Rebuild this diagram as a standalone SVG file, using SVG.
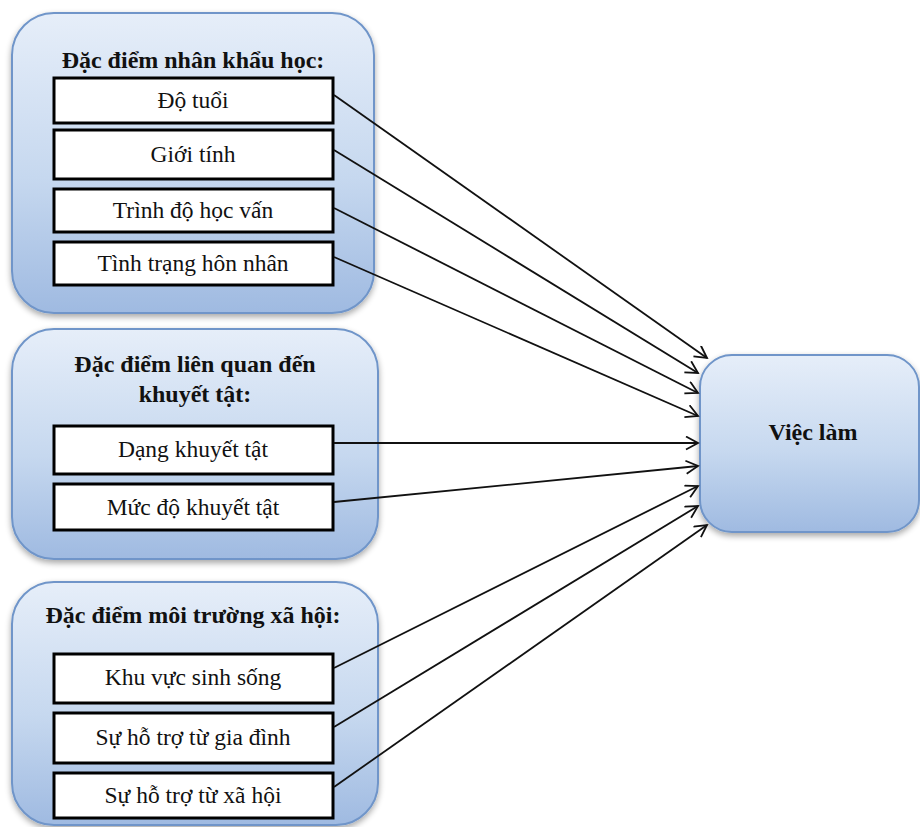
<svg xmlns="http://www.w3.org/2000/svg" width="920" height="827" viewBox="0 0 920 827">
<defs>
<linearGradient id="blueGrad" x1="0" y1="0" x2="0" y2="1">
<stop offset="0" stop-color="#e6eef9"/>
<stop offset="0.55" stop-color="#c6d8ef"/>
<stop offset="1" stop-color="#9fbae1"/>
</linearGradient>
<filter id="shadow" x="-10%" y="-10%" width="120%" height="125%">
<feGaussianBlur in="SourceAlpha" stdDeviation="3"/>
<feOffset dx="0" dy="3" result="b"/>
<feComponentTransfer><feFuncA type="linear" slope="0.35"/></feComponentTransfer>
<feMerge><feMergeNode/><feMergeNode in="SourceGraphic"/></feMerge>
</filter>
<marker id="arrow" markerWidth="16" markerHeight="16" refX="13" refY="7" orient="auto" markerUnits="userSpaceOnUse">
<path d="M1,0.5 L13,7 L1,13.5" fill="none" stroke="#111" stroke-width="1.8"/>
</marker>
<style>
.group{fill:url(#blueGrad);stroke:#6f95c9;stroke-width:2;filter:url(#shadow)}
.item{fill:#fff;stroke:#000;stroke-width:3}
.title{font-family:"Liberation Serif","Times New Roman",serif;font-size:24px;font-weight:bold;fill:#111;text-anchor:middle}
.label{font-family:"Liberation Serif","Times New Roman",serif;font-size:23.5px;fill:#111;text-anchor:middle}
.conn line{stroke:#111;stroke-width:1.8;marker-end:url(#arrow)}
</style>
</defs>
<rect width="920" height="827" fill="#fff"/>

<g id="group-nhan-khau-hoc">
<rect class="group" x="12" y="13" width="362" height="300" rx="42"/>
<text class="title" x="193" y="68">Đặc điểm nhân khẩu học:</text>
<g id="do-tuoi"><rect class="item" x="54" y="78" width="279" height="45"/><text class="label" x="193" y="108">Độ tuổi</text></g>
<g id="gioi-tinh"><rect class="item" x="54" y="130" width="279" height="49"/><text class="label" x="193" y="162">Giới tính</text></g>
<g id="trinh-do"><rect class="item" x="54" y="189" width="279" height="43"/><text class="label" x="193" y="218">Trình độ học vấn</text></g>
<g id="hon-nhan"><rect class="item" x="54" y="242" width="279" height="43"/><text class="label" x="193" y="271">Tình trạng hôn nhân</text></g>
</g>

<g id="group-khuyet-tat">
<rect class="group" x="12" y="329" width="366" height="230" rx="42"/>
<text class="title" x="195" y="372">Đặc điểm liên quan đến</text>
<text class="title" x="195" y="402">khuyết tật:</text>
<g id="dang-khuyet-tat"><rect class="item" x="54" y="426" width="279" height="48"/><text class="label" x="193" y="457">Dạng khuyết tật</text></g>
<g id="muc-do-khuyet-tat"><rect class="item" x="54" y="484" width="279" height="46"/><text class="label" x="193" y="515">Mức độ khuyết tật</text></g>
</g>

<g id="group-moi-truong">
<rect class="group" x="12" y="582" width="366" height="243" rx="42"/>
<text class="title" x="193" y="623">Đặc điểm môi trường xã hội:</text>
<g id="khu-vuc"><rect class="item" x="54" y="654" width="279" height="49"/><text class="label" x="193" y="685">Khu vực sinh sống</text></g>
<g id="ho-tro-gia-dinh"><rect class="item" x="54" y="713" width="279" height="50"/><text class="label" x="193" y="745">Sự hỗ trợ từ gia đình</text></g>
<g id="ho-tro-xa-hoi"><rect class="item" x="54" y="773" width="279" height="45"/><text class="label" x="193" y="803">Sự hỗ trợ từ xã hội</text></g>
</g>

<g id="viec-lam">
<rect class="group" x="700" y="355" width="219" height="177" rx="32"/>
<text class="title" x="813" y="440">Việc làm</text>
</g>

<g id="connectors" class="conn">
<line x1="334" y1="95" x2="707" y2="358"/>
<line x1="334" y1="150" x2="698" y2="373"/>
<line x1="334" y1="208" x2="698" y2="393"/>
<line x1="334" y1="257" x2="698" y2="416"/>
<line x1="334" y1="443" x2="698" y2="443"/>
<line x1="334" y1="502" x2="698" y2="466"/>
<line x1="334" y1="668" x2="698" y2="486"/>
<line x1="334" y1="727" x2="698" y2="506"/>
<line x1="334" y1="787" x2="707" y2="525"/>
</g>
</svg>
